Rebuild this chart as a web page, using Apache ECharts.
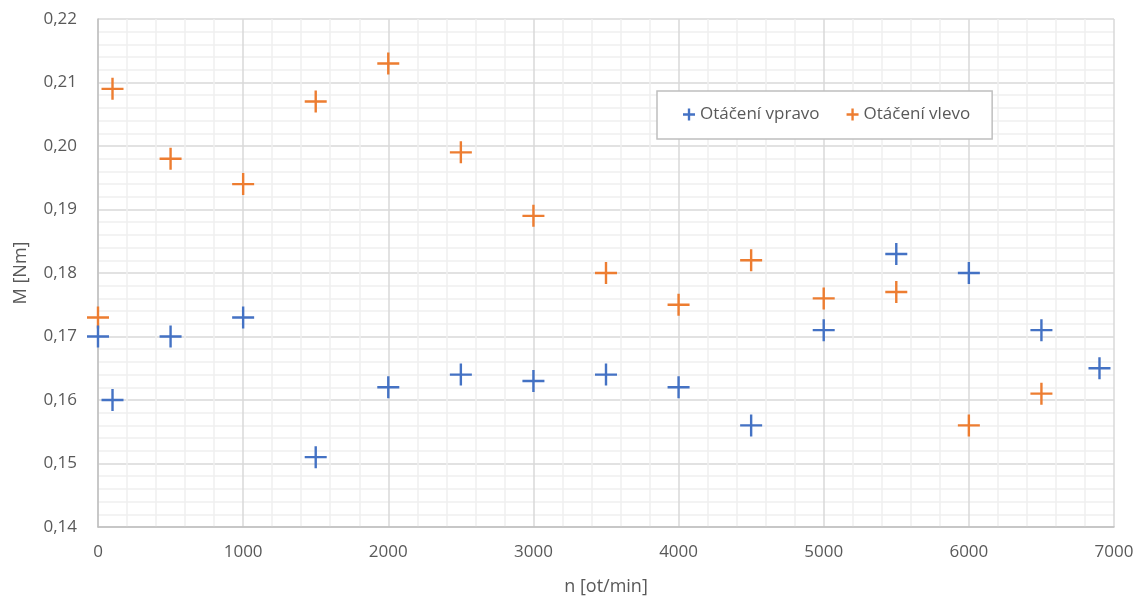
<!DOCTYPE html>
<html>
<head>
<meta charset="utf-8">
<script src="https://cdn.jsdelivr.net/npm/echarts@6/dist/echarts.min.js"></script>
<style>
  html, body { margin: 0; padding: 0; background: #fff; }
  #chart { width: 1137px; height: 601px; }
</style>
</head>
<body>
<div id="chart"></div>
<script>
// Otáčky motoru n [ot/min]
const speedRight = [0, 100, 500, 1000, 1500, 2000, 2500, 3000, 3500, 4000, 4500, 5000, 5500, 6000, 6500, 6900];
const torqueRight = [0.170, 0.160, 0.170, 0.173, 0.151, 0.162, 0.164, 0.163, 0.164, 0.162, 0.156, 0.171, 0.183, 0.180, 0.171, 0.165];

const speedLeft = [0, 100, 500, 1000, 1500, 2000, 2500, 3000, 3500, 4000, 4500, 5000, 5500, 6000, 6500];
const torqueLeft = [0.173, 0.209, 0.198, 0.194, 0.207, 0.213, 0.199, 0.189, 0.180, 0.175, 0.182, 0.176, 0.177, 0.156, 0.161];

const seriesNames = ['Otáčení vpravo', 'Otáčení vlevo'];
const seriesColors = ['#4472C4', '#ED7D31'];

// Plus-shaped markers (plot marker and a heavier legend icon)
const plus = 'path://M9.8,0h2.4v9.8h9.8v2.4h-9.8v9.8h-2.4v-9.8h-9.8v-2.4h9.8z';
const plusIcon = 'path://M4.9,0h2.4v4.9h4.9v2.4h-4.9v4.9h-2.4v-4.9h-4.9v-2.4h4.9z';

const pairs = (xs, ys) => xs.map((x, i) => [x, ys[i]]);

const textColor = '#595959';
const font = '"Open Sans", "Noto Sans", sans-serif';

const chart = echarts.init(document.getElementById('chart'), null, { renderer: 'canvas' });
chart.setOption({
  animation: false,
  backgroundColor: '#fff',
  grid: { left: 98, right: 23, top: 19, bottom: 70, containLabel: false },
  legend: {
    left: 657, top: 91,
    orient: 'horizontal',
    backgroundColor: '#fff',
    borderColor: '#BFBFBF', borderWidth: 1.5, borderRadius: 0,
    padding: [15, 22, 16, 26],
    itemWidth: 12, itemHeight: 12, itemGap: 27,
    textStyle: { color: textColor, fontSize: 17, fontFamily: font },
    data: seriesNames.map(n => ({ name: n, icon: plusIcon }))
  },
  xAxis: {
    type: 'value', min: 0, max: 7000, interval: 1000,
    name: 'n [ot/min]', nameLocation: 'middle', nameGap: 51,
    nameTextStyle: { color: textColor, fontSize: 18, fontFamily: font },
    axisLine: { show: true, onZero: false, lineStyle: { color: '#BFBFBF', width: 1.5 } },
    axisTick: { show: false },
    axisLabel: { color: textColor, fontSize: 17, fontFamily: font, margin: 17, formatter: v => String(v) },
    splitLine: { show: true, lineStyle: { color: '#D9D9D9', width: 1.5 } },
    minorTick: { show: false, splitNumber: 5 },
    minorSplitLine: { show: true, lineStyle: { color: '#EFEFEF', width: 1.5 } }
  },
  yAxis: {
    type: 'value', min: 0.14, max: 0.22, interval: 0.01,
    name: 'M [Nm]', nameLocation: 'middle', nameGap: 68, nameRotate: 90,
    nameTextStyle: { color: textColor, fontSize: 18, fontFamily: font },
    axisLine: { show: true, lineStyle: { color: '#BFBFBF', width: 1.5 } },
    axisTick: { show: false },
    axisLabel: {
      color: textColor, fontSize: 17, fontFamily: font, margin: 21,
      formatter: v => v.toFixed(2).replace('.', ',')
    },
    splitLine: { show: true, lineStyle: { color: '#D9D9D9', width: 1.5 } },
    minorTick: { show: false, splitNumber: 5 },
    minorSplitLine: { show: true, lineStyle: { color: '#EFEFEF', width: 1.5 } }
  },
  series: [
    {
      name: seriesNames[0], type: 'scatter', symbol: plus, symbolSize: 22,
      itemStyle: { color: seriesColors[0], opacity: 1 },
      data: pairs(speedRight, torqueRight), z: 3
    },
    {
      name: seriesNames[1], type: 'scatter', symbol: plus, symbolSize: 22,
      itemStyle: { color: seriesColors[1], opacity: 1 },
      data: pairs(speedLeft, torqueLeft), z: 2
    }
  ]
});
</script>
</body>
</html>
